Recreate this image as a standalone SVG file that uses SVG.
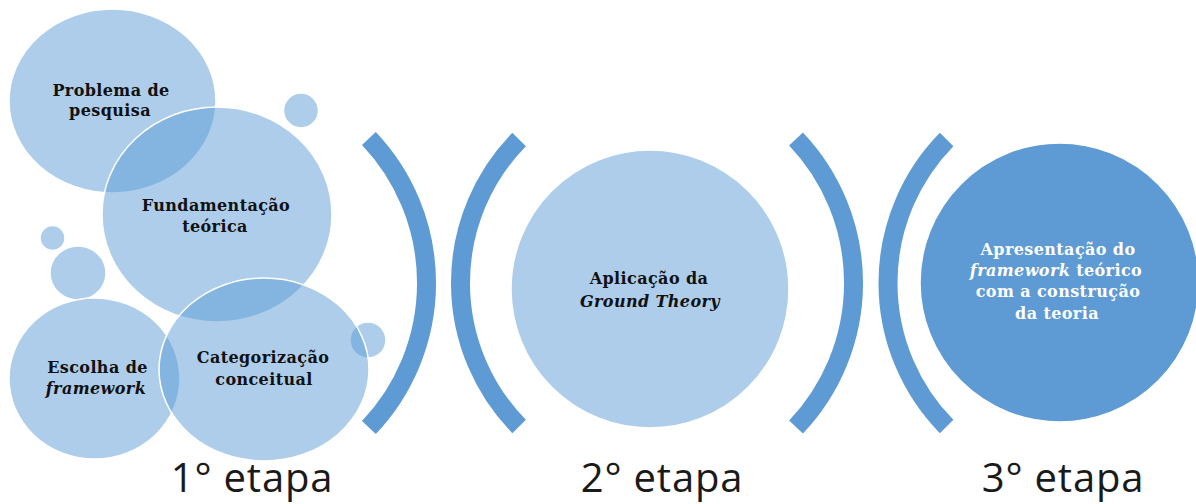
<svg xmlns="http://www.w3.org/2000/svg" width="1196" height="504" viewBox="0 0 1196 504">
  <style>
    .bubble { fill: #5B9BD5; fill-opacity: 0.5; stroke: #ffffff; stroke-width: 1.5; }
    .solid { fill: #5E9AD3; stroke: #ffffff; stroke-width: 1.5; }
    .bracket { fill: none; stroke: #5E9AD3; stroke-width: 19; stroke-linecap: butt; }
    .lbl { font-family: "DejaVu Serif", "Liberation Serif", serif; font-weight: bold; font-size: 16px; letter-spacing: 0.4px; fill: #111111; text-anchor: middle; }
    .lbl-w { fill: #ffffff; }
    .it { font-style: italic; }
    .stage { font-family: "Open Sans", "Noto Sans", "Liberation Sans", sans-serif; font-size: 40px; letter-spacing: 0.8px; fill: #1a1a1a; text-anchor: middle; }
  </style>
  <rect width="1196" height="504" fill="#ffffff"/>

  <!-- stage 1: cluster of bubbles -->
  <g id="decor-small">
    <circle class="bubble" cx="301" cy="110.5" r="17.5"/>
    <circle class="bubble" cx="52.5" cy="238" r="12.5"/>
    <ellipse class="bubble" cx="78" cy="273" rx="28" ry="27"/>
  </g>
  <g id="node-problema">
    <ellipse class="bubble" cx="112.5" cy="101" rx="103.5" ry="92"/>
    <text class="lbl" x="111" y="96">Problema de</text>
    <text class="lbl" x="110" y="116">pesquisa</text>
  </g>
  <g id="node-fundamentacao">
    <ellipse class="bubble" cx="217" cy="214.5" rx="115" ry="107.5"/>
    <text class="lbl" x="216" y="211">Fundamentação</text>
    <text class="lbl" x="215" y="232">teórica</text>
  </g>
  <g id="node-escolha">
    <ellipse class="bubble" cx="94.5" cy="378.5" rx="85.5" ry="80.5"/>
    <text class="lbl" x="97.5" y="373">Escolha de</text>
    <text class="lbl it" x="96" y="394">framework</text>
  </g>
  <g id="decor-small-2">
    <circle class="bubble" cx="368" cy="340" r="18"/>
  </g>
  <g id="node-categorizacao">
    <ellipse class="bubble" cx="264" cy="369.5" rx="105" ry="91.5"/>
    <text class="lbl" x="263" y="363">Categorização</text>
    <text class="lbl" x="264" y="385">conceitual</text>
  </g>

  <!-- bracket separators between stages -->
  <g id="connectors">
    <path class="bracket" d="M368.9,138.5 A210,210 0 0 1 368.9,427.5"/>
    <path class="bracket" d="M519.1,139.5 A205,205 0 0 0 519.1,426.5"/>
    <path class="bracket" d="M796,139 A209,209 0 0 1 796,427"/>
    <path class="bracket" d="M946.6,139.5 A205,205 0 0 0 946.6,426.5"/>
  </g>

  <!-- stage 2 -->
  <g id="node-aplicacao">
    <circle class="bubble" cx="650" cy="289" r="139"/>
    <text class="lbl" x="649" y="284">Aplicação da</text>
    <text class="lbl it" x="650" y="307">Ground Theory</text>
  </g>

  <!-- stage 3 -->
  <g id="node-apresentacao">
    <circle class="solid" cx="1059.5" cy="282.5" r="139.5"/>
    <text class="lbl lbl-w" x="1058" y="255">Apresentação do</text>
    <text class="lbl lbl-w" x="1056" y="276"><tspan class="it">framework</tspan> teórico</text>
    <text class="lbl lbl-w" x="1058" y="297">com a construção</text>
    <text class="lbl lbl-w" x="1057" y="319">da teoria</text>
  </g>

  <!-- stage captions -->
  <g id="captions">
    <text class="stage" x="252" y="492">1° etapa</text>
    <text class="stage" x="662" y="492">2° etapa</text>
    <text class="stage" x="1063" y="492">3° etapa</text>
  </g>
</svg>
